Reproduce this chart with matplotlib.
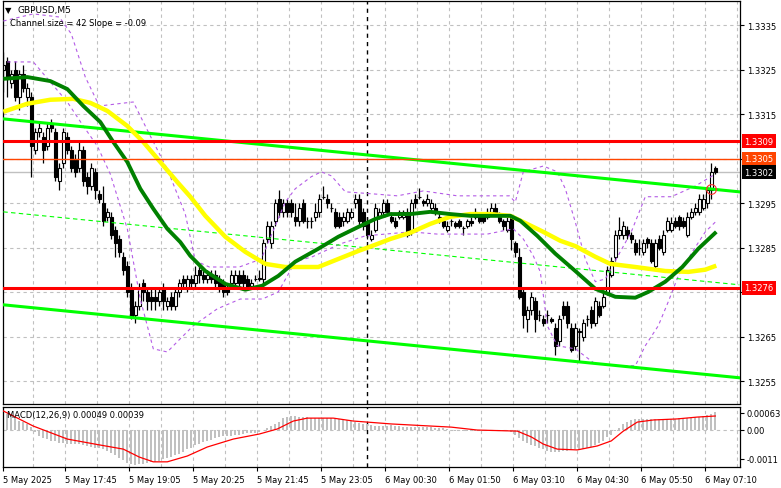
import matplotlib
matplotlib.use("Agg")
import matplotlib.pyplot as plt
import matplotlib.transforms as mtransforms
import numpy as np

# GBPUSD M5 candles, values in pips above 1.3200
BASE = 1.32
PIP = 0.0001

opens = [125, 127, 122, 125, 119, 124, 119, 119, 107, 111,
         110, 108, 113, 111, 100, 104, 110, 107, 105, 103,
         107, 101, 99, 102, 97, 95, 92, 92, 89, 87,
         83, 81, 76, 70, 72, 77, 75, 74, 74, 73,
         76, 72, 74, 72, 75, 78, 76, 78, 77, 80,
         79, 78, 79, 79, 78, 77, 76, 77, 77, 79,
         79, 78, 76.5, 78, 78, 78, 87, 86, 91, 96,
         93, 95, 95, 92, 91, 95, 91, 91, 92, 93,
         96.5, 96, 94, 93, 92, 91, 91, 92, 95, 96,
         93, 91, 87, 89, 92, 93, 95, 92, 91, 92,
         92, 93, 89, 96, 96.5, 95.5, 95, 94, 94, 92,
         91, 89, 91, 90.5, 91, 89.5, 90, 91, 92, 92,
         92, 92, 93, 94, 92, 91, 89, 92, 86, 83,
         75, 69, 71, 73, 70, 69, 70, 69, 67, 64,
         72, 72, 67, 63, 66, 65, 69, 71, 68, 72,
         72, 75, 79, 83, 88, 88, 89, 88, 86, 85,
         84, 87, 86, 81, 87, 84, 89, 89, 91, 92,
         91, 88, 92, 93, 93, 94, 95, 98, 103]
highs = [129, 128, 125, 127, 125, 126, 122, 120, 112, 113,
         111, 113, 114, 112, 104, 112, 111, 108, 106, 109,
         108, 102, 104, 103, 98, 99, 94, 93, 90, 88,
         84, 82, 77, 73, 77, 78, 76, 76, 76, 76,
         77, 74, 75, 76, 78, 79, 79, 79, 81, 81,
         80, 80, 80, 80, 79, 78, 77, 80, 80, 80,
         80, 79, 78, 79, 80, 87, 91, 91, 96, 98,
         96, 96, 96, 95, 95, 96, 92, 92, 95, 97,
         99, 97, 95, 94, 93, 93, 94, 94, 97, 97,
         94, 92, 89, 95, 94, 96, 96, 93, 92, 93.5,
         93.5, 94, 96, 97, 98.5, 96, 97, 96, 95, 93,
         91.5, 91, 91.5, 91, 91.5, 90, 91.5, 92, 94, 93,
         92.5, 94, 95, 95, 93, 91.5, 92, 92.5, 86.5, 85,
         76, 72, 75, 74, 71, 70, 71, 69.5, 68, 70,
         73, 73, 68, 68, 67, 69, 70, 72, 74, 73,
         75, 81, 83, 89, 92, 91, 90, 88.5, 87, 87,
         87, 87.5, 87, 87, 88, 89, 92, 92, 92, 92.5,
         92, 93, 94, 95, 97, 97, 99, 104, 103.5]
lows = [120, 119, 121, 118, 116, 120, 117, 101, 106, 110,
        104, 107, 111, 100, 98, 103, 106, 102, 101, 102,
        99, 97, 98, 96, 95, 90, 91, 87, 83, 83,
        79, 74, 69, 68, 71, 73, 71, 71, 71, 72,
        71, 71, 71, 71, 74, 76, 75, 76, 76, 77,
        77, 77, 77, 76, 75, 74, 74.5, 76, 76, 76,
        76, 75.5, 76, 77.5, 77.5, 77, 86, 85, 90, 92,
        92, 92, 92, 90, 90, 90.5, 89.5, 89.5, 91, 92,
        96, 94, 93, 89.5, 89.5, 90, 90.5, 91.5, 94, 90,
        89, 87, 86.5, 88.5, 91.5, 92.5, 92.5, 90.5, 89.5, 91.5,
        91.5, 87.5, 88, 94, 96, 94.5, 94.5, 93.5, 92.5, 90.5,
        89.5, 88.5, 90, 89.5, 89.5, 88, 89.5, 90, 91.5, 90.5,
        90.5, 91.5, 92.5, 92.5, 90.5, 89, 88.5, 84.5, 83, 73.5,
        67, 66, 70, 66, 68.5, 67.5, 68, 68, 61, 63,
        69, 67, 61.5, 62, 59.4, 64, 67.5, 67, 67.5, 69.5,
        71.5, 74.5, 78.5, 82, 87, 87, 87, 86, 83.5, 83.5,
        83.5, 85, 81.5, 80.5, 84.5, 83.5, 88.5, 88.5, 89.5, 89,
        89.5, 87.5, 91.5, 92.5, 92.5, 93.5, 94, 96, 101.5]
closes = [126, 123, 124, 119, 124, 121, 121, 108, 111, 112,
          107, 112, 112, 101, 103, 111, 107, 103, 102, 107,
          100, 99, 103, 98, 96, 91, 93, 88, 86, 84,
          80, 75, 69.5, 72, 76, 75, 73, 73, 73, 75,
          73, 73, 72, 75, 77, 77, 78, 77, 79, 79,
          78, 79, 78, 77, 76, 75, 75, 79, 79, 77,
          77, 76, 77, 78, 78.2, 86, 90, 90, 95, 93,
          95, 93, 93, 91, 94, 91, 91, 91, 93, 96,
          96.5, 95, 94, 90, 90, 92, 93, 93, 96, 91,
          90, 88, 88, 94, 93, 95, 93, 91, 90, 93,
          93, 88, 95, 95, 96.5, 95, 96, 95, 93, 91,
          90, 90, 91, 90, 90, 89.5, 91, 90.5, 93, 91,
          91, 93, 94, 93, 91, 90, 91, 87, 84, 74,
          70, 71, 74, 69, 70, 68, 70, 68.5, 63, 69,
          70, 68, 62, 67, 66.3, 68, 69, 68, 73, 70,
          74, 80, 82, 88, 89, 90, 88, 87, 84, 85,
          86, 86, 82, 86, 85, 88, 91, 90.5, 90, 90,
          90, 92, 93, 94, 96, 96, 98, 102, 102]

# moving averages (bar index, pips)
green_ma_idx = [0, 6, 11.75, 16, 20, 24.25, 27.5, 31, 34.25, 37.5, 41, 44.25, 46.75,
                50.5, 55.5, 60.5, 64.75, 68.75, 73, 78.75, 83.75, 88.75, 93, 96.75,
                101.75, 106.75, 111.75, 116.75, 121.75, 126.75, 129.25, 133.5, 138,
                143, 148, 153, 158, 161.25, 165.5, 169.75, 173.75, 178.25]
green_ma = [123.0, 123.4, 122.5, 120.7, 116.9, 113.3, 108.8, 104.3, 98.3, 93.8, 89.3, 86.3, 83.2,
            79.8, 76.9, 75.6, 76.5, 78.7, 81.9, 84.8, 87.5, 89.7, 91.5, 92.6,
            92.6, 93.1, 92.6, 92.2, 92.2, 92.2, 91.1, 87.7, 83.7,
            79.8, 75.8, 74.0, 73.8, 75.1, 77.4, 80.7, 84.8, 88.6]
yellow_ma_idx = [0, 6, 11.75, 17.5, 21.75, 26, 31, 35, 39.25, 43.5, 46.75, 50.5, 55.5,
                 60.5, 65.5, 70.5, 78.75, 83.75, 88.75, 93, 96.75, 101.75, 106.75,
                 111.75, 116.75, 121.75, 126.75, 130, 135, 139.25, 143, 148, 151.75,
                 158, 165.5, 171.25, 175.5, 178.25]
yellow_ma = [115.6, 117.4, 118.3, 118.5, 117.6, 115.8, 112.4, 108.8, 104.3, 99.8, 96.5, 92.2, 87.5,
             84.1, 81.4, 80.7, 80.7, 82.5, 84.3, 85.7, 87.0, 88.4, 90.4,
             92.0, 92.6, 92.6, 92.2, 90.8, 88.6, 86.6, 85.4, 83.0, 81.4,
             80.7, 79.8, 79.6, 80.1, 81.0]

# envelope bands (bar index, pips)
band_up_idx = [0, 7.5, 14, 17, 20.5, 24, 32.5, 36.5, 41, 45.5, 48, 51.5, 59, 64.5, 70.5,
               73, 77, 79.5, 82, 85.5, 93, 98.5, 105, 113.5, 126.5, 128, 130, 135, 138.5,
               140.5, 143, 145.5, 148, 150.5, 153, 157, 160.5, 167, 173, 178]
band_up = [136.0, 137.6, 136.9, 133.1, 123.4, 116.9, 117.8, 110.6, 102.7, 92.6, 82.1, 80.7, 80.7,
           82.5, 95.3, 98.3, 101.0, 102.1, 101.2, 97.6, 97.1, 96.7, 97.8, 96.7, 96.7, 95.3,
           102.1, 103.4, 102.1, 98.3, 90.8, 82.5, 77.4, 78.0, 82.1, 88.6, 96.5, 96.5, 98.9, 101.6]
band_lo_idx = [1, 7.5, 11.75, 16, 20, 23.5, 26.75, 31, 34.25, 37.5, 41, 43.5, 47.5, 53.5,
               59.25, 64.75, 68.75, 73, 77.25, 84.25, 90.5, 101.75, 108.5, 121, 127.5, 130,
               132.5, 134.25, 136, 138.5, 143, 148, 154, 158, 160.5, 163.75, 166.25, 168.75,
               172.25, 175.5, 178]
band_lo = [126.8, 126.8, 122.3, 117.8, 112.4, 107.9, 101.6, 89.3, 73.5, 62.3, 61.6, 63.9, 67.5,
           71.3, 73.5, 73.5, 75.1, 81.9, 83.0, 85.9, 87.7, 88.6, 88.1, 88.1, 89.3, 87.0, 83.2,
           79.6, 67.5, 63.0, 62.3, 58.9, 58.5, 58.5, 63.0, 67.5, 72.9, 78.7, 84.1, 88.6, 90.8]

# regression channel (42 pips wide)
channel_idx = [0, 184]
channel_top = [114.0, 97.6]
channel_mid = [93.1, 76.7]
channel_bot = [72.2, 55.8]

resistance = 1.3309
support = 1.3276
ask_price = 1.3305
bid_price = 1.3302
midnight_bar = 91
touch_bar, touch_price = 177, 1.32983

# MACD(12,26,9), values in 1e-5
macd_hist = [65, 60, 56, 50, 34, 28, 22, 10,
             -10, -25, -32, -37, -42, -45, -50, -52,
             -53, -54, -55, -56, -58, -63, -65, -68,
             -70, -74, -82, -90, -98, -106, -115, -125,
             -132, -133, -132, -130, -126, -124, -121, -118,
             -112, -107, -102, -97, -92, -86, -75, -68,
             -58, -53, -48, -44, -38, -33, -29, -26,
             -25, -23, -20, -19, -17, -15, -14, -13,
             -8, -2, 6, 14, 22, 30, 42, 48,
             52, 52, 48, 47, 46, 45, 45, 45,
             44, 43, 42, 41, 39, 37, 35, 33,
             30, 26, 22, 19, 16, 15, 14, 14,
             15, 16, 14, 12, 11, 11, 10, 10,
             10, 9, 9, 8, 7, 6, 5, 3,
             -2, -4, -5, -5, -5, -5, -4, -4,
             -4, -5, -5, -5, -4, -5, -6, -10,
             -20, -32, -44, -52, -58, -63, -68, -75,
             -80, -83, -85, -84, -82, -80, -77, -75,
             -74, -73, -70, -66, -60, -52, -44, -30,
             -19, -6, 6, 20, 30, 36, 39, 39,
             39, 39, 39, 40, 40, 40, 40, 41,
             41, 42, 42, 43, 45, 47, 49, 52,
             56, 60, 65]
signal_idx = [0, 7.5, 16, 24, 30, 34, 37.5, 41, 46, 51, 57.5, 64, 68.5, 72.5, 76, 82.5,
              87.5, 91, 97, 112, 118.5, 128.5, 132, 135, 138.5, 143.5, 148.5, 152, 155,
              158.5, 162.5, 168.5, 173.5, 178]
signal = [70, 13, -36, -58, -74, -104, -122, -122, -100, -66, -36, -17, 2, 32, 43, 43,
          32, 28, 21, 9, -2, -6, -28, -55, -74, -77, -62, -43, -6,
          28, 36, 40, 47, 51]

time_labels = ["5 May 2025", "5 May 17:45", "5 May 19:05", "5 May 20:25", "5 May 21:45",
               "5 May 23:05", "6 May 00:30", "6 May 01:50", "6 May 03:10", "6 May 04:30",
               "6 May 05:50", "6 May 07:10"]
price_levels = [1.3255, 1.3265, 1.3275, 1.3285, 1.3295, 1.3305, 1.3315, 1.3325, 1.3335]
hidden_levels = [1.3275, 1.3305]


def px(v):
    return BASE + np.asarray(v, dtype=float) * PIP


W, H = 781, 489
fig = plt.figure(figsize=(W / 100, H / 100), dpi=100)
ax = fig.add_axes([3 / W, 84 / H, 737 / W, 403 / H])
axm = fig.add_axes([3 / W, 21 / H, 737 / W, 60 / H])

grid_kw = dict(color="#C0C0C0", linestyle=(0, (3, 3)), linewidth=0.8)
n = len(closes)
idx = np.arange(n)
xlim = (-0.075, 184.175)
vgrid = [8 * k - 0.5 for k in range(1, 24)]

# ---- main price panel
for a in (ax, axm):
    for g in vgrid:
        a.axvline(g, zorder=0, **grid_kw)
    a.set_xlim(*xlim)
    a.axvline(midnight_bar, color="black", linestyle=(0, (3, 3)), linewidth=1.0, zorder=1)
    for s in a.spines.values():
        s.set_color("black")
        s.set_linewidth(0.9)
for lv in price_levels:
    ax.axhline(lv, zorder=0, **grid_kw)

ax.set_ylim(1.32499, 1.33405)

o, h, l, c = px(opens), px(highs), px(lows), px(closes)
ax.vlines(idx, l, h, color="black", linewidth=0.9, zorder=2)
bottoms = np.minimum(o, c)
heights = np.abs(c - o)
faces = ["white" if cc >= oo else "black" for oo, cc in zip(o, c)]
ax.bar(idx, heights, bottom=bottoms, width=0.62, color=faces, edgecolor="black",
       linewidth=0.8, zorder=2)

ax.plot(band_up_idx, px(band_up), color="#B45CE6", linestyle=(0, (3, 3)), linewidth=0.8, zorder=3)
ax.plot(band_lo_idx, px(band_lo), color="#B45CE6", linestyle=(0, (3, 3)), linewidth=0.8, zorder=3)

ax.plot(channel_idx, px(channel_top), color="#00FF00", linewidth=2.2, zorder=3)
ax.plot(channel_idx, px(channel_bot), color="#00FF00", linewidth=2.2, zorder=3)
ax.plot(channel_idx, px(channel_mid), color="#00FF00", linestyle=(0, (4, 3)), linewidth=0.8, zorder=3)

ax.plot(yellow_ma_idx, px(yellow_ma), color="#FFFF00", linewidth=3.2, zorder=4,
        solid_capstyle="butt")
ax.plot(green_ma_idx, px(green_ma), color="#008000", linewidth=2.8, zorder=4,
        solid_capstyle="butt")

ax.axhline(bid_price, color="#C0C0C0", linewidth=1.0, zorder=1)
ax.axhline(ask_price, color="#FF4500", linewidth=1.0, zorder=5)
ax.axhline(resistance, color="#FF0000", linewidth=2.2, zorder=5)
ax.axhline(support, color="#FF0000", linewidth=2.2, zorder=5)

ax.plot([touch_bar], [touch_price], marker="o", markersize=7, markerfacecolor="none",
        markeredgecolor="#FF3030", markeredgewidth=0.8, linestyle="none", zorder=6)

ax.yaxis.tick_right()
ax.set_yticks(price_levels)
ax.set_yticklabels(["" if lv in hidden_levels else f"{lv:.4f}" for lv in price_levels])
ax.tick_params(axis="y", labelsize=6, length=3, pad=2, width=0.8)
ax.set_xticks([])

ybox = mtransforms.blended_transform_factory(ax.transAxes, ax.transData)
for val, col in [(resistance, "#FF0000"), (ask_price, "#FF4500"),
                 (bid_price, "#000000"), (support, "#FF0000")]:
    ax.text(1.0 + 4 / 737, val, f"{val:.4f}", transform=ybox, color="white", fontsize=6,
            ha="left", va="center", clip_on=False, zorder=7,
            bbox=dict(boxstyle="square,pad=0.3", fc=col, ec="none"))

ax.text(2 / 737, 1 - 8.5 / 403, "\u25bc", transform=ax.transAxes, fontsize=6,
        ha="left", va="center", color="black")
ax.text(15 / 737, 1 - 8.7 / 403, "GBPUSD,M5", transform=ax.transAxes, fontsize=6.5,
        ha="left", va="center", color="black")
ax.text(7 / 737, 1 - 22 / 403, "Channel size = 42 Slope = -0.09", transform=ax.transAxes,
        fontsize=6, ha="left", va="center", color="black")

# ---- MACD panel
axm.set_ylim(-0.001415, 0.00085)
axm.axhline(0, zorder=0, **grid_kw)
axm.bar(idx, np.asarray(macd_hist) * 1e-5, width=0.55, color="#C0C0C0", zorder=2)
axm.plot(signal_idx, np.asarray(signal) * 1e-5, color="#FF0000", linewidth=0.9, zorder=3)
axm.yaxis.tick_right()
axm.set_yticks([0.00063, 0.0, -0.0011])
axm.set_yticklabels(["0.00063", "0.00", "-0.0011"])
axm.tick_params(axis="y", labelsize=6, length=3, pad=2, width=0.8)
axm.text(4 / 737, 1 - 8 / 60, "MACD(12,26,9) 0.00049 0.00039", transform=axm.transAxes,
         fontsize=6, ha="left", va="center", color="black")

label_pos = [0.0] + [16 * k - 0.5 for k in range(1, len(time_labels))]
axm.set_xticks(label_pos)
axm.set_xticklabels(time_labels, fontsize=6, ha="left")
axm.tick_params(axis="x", length=3, pad=3, width=0.8)

fig.savefig("out.png", dpi=100, facecolor="white")
